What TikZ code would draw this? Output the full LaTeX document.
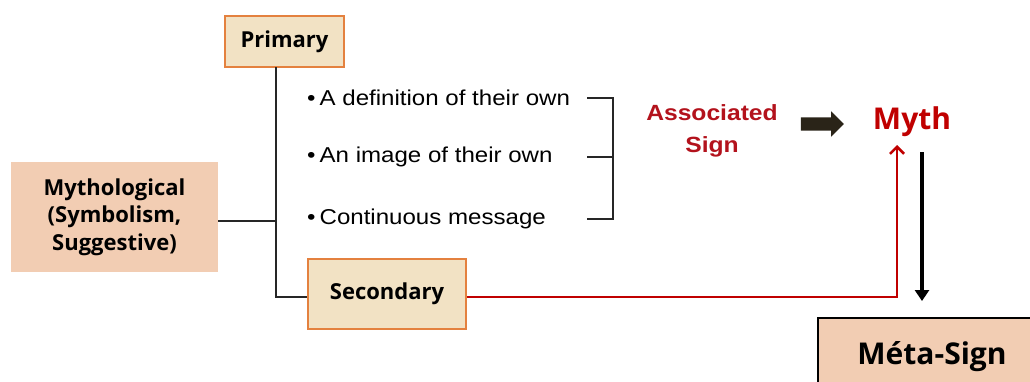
\documentclass[tikz,border=0pt]{standalone}
\usepackage{fontspec}
\setmainfont{Liberation Sans}
\newfontfamily\boxfont{Open Sans}
\usetikzlibrary{arrows.meta,shapes.arrows}
\newcommand{\hstretch}[1]{\scalebox{1.12}[1]{#1}}
\definecolor{boxfill}{HTML}{F2E2C4}
\definecolor{boxline}{HTML}{E4813F}
\definecolor{peach}{HTML}{F2CDB3}
\definecolor{myred}{HTML}{C00000}
\definecolor{signred}{HTML}{B3121C}
\definecolor{darkarrow}{HTML}{2A2418}
\begin{document}
\begin{tikzpicture}[x=1pt,y=-1pt,
  catbox/.style={draw=boxline,line width=2pt,fill=boxfill,inner sep=0pt,
    font=\boxfont\bfseries\fontsize{22}{26}\selectfont},
  mythbox/.style={fill=peach,inner sep=0pt,align=center,minimum width=207pt,minimum height=110pt,
    font=\boxfont\bfseries\fontsize{22}{27.5}\selectfont},
  metabox/.style={draw=black,line width=1.3pt,fill=peach,inner sep=0pt,
    font=\boxfont\bfseries\fontsize{30}{34}\selectfont},
  item/.style={anchor=west,inner sep=0pt,font=\fontsize{21.5}{24}\selectfont},
  conn/.style={line width=1.3pt,draw=black!85},
  redline/.style={line width=2.8pt,draw=myred},
]
\useasboundingbox (0,0) rectangle (1030,381);
\clip (0,0) rectangle (1030,381);

% boxes
\node[catbox,minimum width=119pt,minimum height=51pt] (primary) at (284.5,41.5) {Primary};
\node[catbox,minimum width=158pt,minimum height=70pt] (secondary) at (387,294) {Secondary};
\node[mythbox] (mytho) at (114.5,217) {Mythological\\(Symbolism,\\Suggestive)};
\node[metabox,minimum width=228pt,minimum height=78pt] (meta) at (932,357) {Méta-Sign};

% bullet items
\node[item] (b1) at (307,98) {\hstretch{\textbullet\,A definition of their own}};
\node[item] (b2) at (307,157) {\hstretch{\textbullet\,An image of their own}};
\node[item] (b3) at (307,219) {\hstretch{\textbullet\,Continuous message}};

% labels
\node[text=signred,font=\bfseries\fontsize{22}{29}\selectfont] (assoc) at (712,131)
  {\hstretch{\begin{tabular}{@{}c@{}}Associated\\[3pt]Sign\end{tabular}}};
\node[text=myred,font=\boxfont\bfseries\fontsize{30}{32}\selectfont] (myth) at (912,122) {Myth};
\node[single arrow,fill=darkarrow,draw=none,minimum height=43pt,inner xsep=0pt,inner ysep=6.5pt,
  single arrow head extend=6pt,single arrow tip angle=90] (arr) at (819,124) {};

% tree connectors
\coordinate (ptop) at (276,67);
\coordinate (tb) at (276,297);
\coordinate (tm) at (276,221);
\draw[conn] (ptop) -- (tb) -- (tb -| secondary.west);
\draw[conn] (mytho.east |- tm) -- (tm);

% bracket
\coordinate (k1) at (613,98);
\coordinate (k2) at (613,157);
\coordinate (k3) at (613,219);
\draw[conn] ([xshift=-26pt]k1) -- (k1) -- (k3) -- ([xshift=-26pt]k3);
\draw[conn] ([xshift=-26pt]k2) -- (k2);

% red arrow
\coordinate (rc) at (897,297);
\coordinate (rt) at (897,145);
\draw[redline,-{Straight Barb[length=7pt,width=14pt,line width=2.6pt]}] (secondary.east |- rc) -- (rc) -- (rt);

% black arrow
\coordinate (d1) at (922,152);
\coordinate (d2) at (922,301);
\draw[line width=4pt,-{Triangle[length=11pt,width=14pt]}] (d1) -- (d2);
\end{tikzpicture}
\end{document}
